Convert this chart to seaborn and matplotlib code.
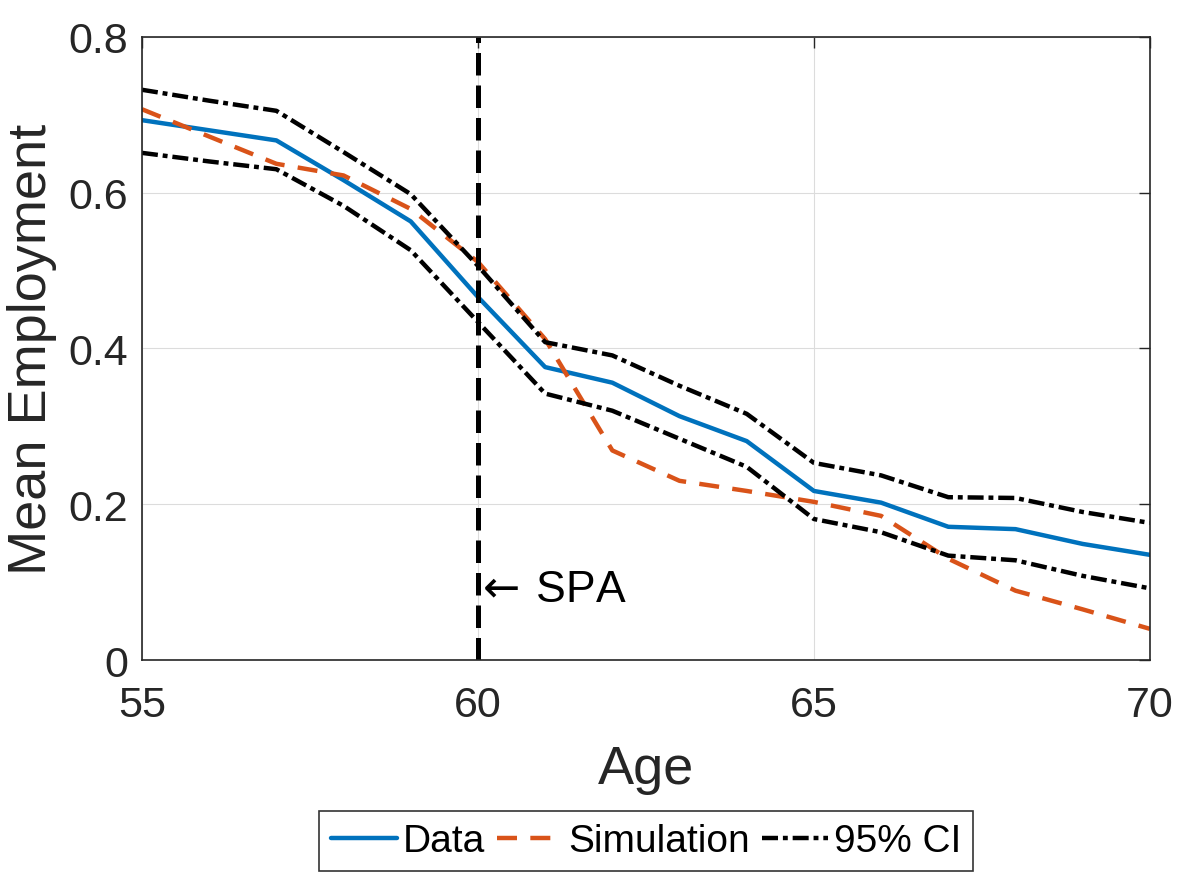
import numpy as np
import pandas as pd
import matplotlib
matplotlib.use("Agg")
import matplotlib.pyplot as plt
import seaborn as sns

# === Chart data ===
ages = [55, 56, 57, 58, 59, 60, 61, 62, 63, 64, 65, 66, 67, 68, 69, 70]
data_mean = [0.693, 0.680, 0.667, 0.616, 0.563, 0.466, 0.376, 0.356, 0.313, 0.281,
             0.217, 0.202, 0.171, 0.168, 0.149, 0.135]
simulation = [0.707, 0.672, 0.637, 0.622, 0.579, 0.511, 0.412, 0.269, 0.230, 0.217,
              0.203, 0.185, 0.130, 0.089, 0.065, 0.040]
ci_upper = [0.732, 0.718, 0.705, 0.652, 0.598, 0.506, 0.408, 0.391, 0.352, 0.316,
            0.253, 0.237, 0.209, 0.208, 0.190, 0.176]
ci_lower = [0.651, 0.640, 0.630, 0.583, 0.526, 0.434, 0.342, 0.320, 0.284, 0.248,
            0.181, 0.164, 0.134, 0.128, 0.108, 0.092]
spa_age = 60
x_ticks = [55, 60, 65, 70]
y_ticks = [0, 0.2, 0.4, 0.6, 0.8]

df = pd.DataFrame({'Age': ages, 'Data': data_mean, 'Simulation': simulation,
                   'Upper': ci_upper, 'Lower': ci_lower})

sns.set_style("white")
plt.rcParams['font.family'] = ['Liberation Sans', 'DejaVu Sans']
plt.rcParams['mathtext.fontset'] = 'dejavusans'

blue = '#0072BD'
orange = '#D95319'

fig = plt.figure(figsize=(11.83, 8.79), dpi=100)
ax = fig.add_axes([0.12, 0.248, 0.852, 0.709])

# === Lines ===
sns.lineplot(data=df, x='Age', y='Data', ax=ax, color=blue, lw=3.2, label='Data')
sns.lineplot(data=df, x='Age', y='Simulation', ax=ax, color=orange, lw=3.2,
             label='Simulation')
ax.lines[-1].set_dashes((4.5, 3))
sns.lineplot(data=df, x='Age', y='Upper', ax=ax, color='black', lw=3.2, label='95% CI')
ax.lines[-1].set_dashes((3.6, 1.1, 1.1, 1.1))
sns.lineplot(data=df, x='Age', y='Lower', ax=ax, color='black', lw=3.2)
ax.lines[-1].set_dashes((3.6, 1.1, 1.1, 1.1))

# === SPA marker ===
ax.axvline(spa_age, color='black', lw=3.6, dashes=(4.5, 2))
ax.annotate(r'$\leftarrow\,$SPA', xy=(spa_age, 0.09), xytext=(-3, 0),
            textcoords='offset points', fontsize=32, va='center', ha='left',
            color='black')

# === Axes styling ===
ax.set_xlim(55, 70)
ax.set_ylim(0, 0.8)
ax.set_xticks(x_ticks)
ax.set_yticks(y_ticks)
ax.set_yticklabels(['0', '0.2', '0.4', '0.6', '0.8'])
ax.grid(True, color='#dcdcdc', lw=0.8)
ax.tick_params(direction='in', length=8, width=1, labelsize=31, colors='#262626',
               top=True, right=True)
ax.tick_params(axis='x', pad=18)
ax.tick_params(axis='y', pad=10)
for s in ax.spines.values():
    s.set_color('#262626')
    s.set_linewidth(1.2)

ax.set_xlabel('Age', fontsize=39, color='#262626', labelpad=14)
ax.set_ylabel('Mean Employment', fontsize=39, color='#262626', labelpad=8)

leg = ax.legend(loc='upper center', bbox_to_anchor=(0.5, -0.243), ncol=3,
                fontsize=28, frameon=True, fancybox=False, edgecolor='black',
                handlelength=1.7, handletextpad=0.15, columnspacing=0.3,
                borderpad=0.3, borderaxespad=0)
leg.get_frame().set_linewidth(1.2)
for t in leg.get_texts():
    t.set_color('black')

plt.savefig('out.png', dpi=100)
